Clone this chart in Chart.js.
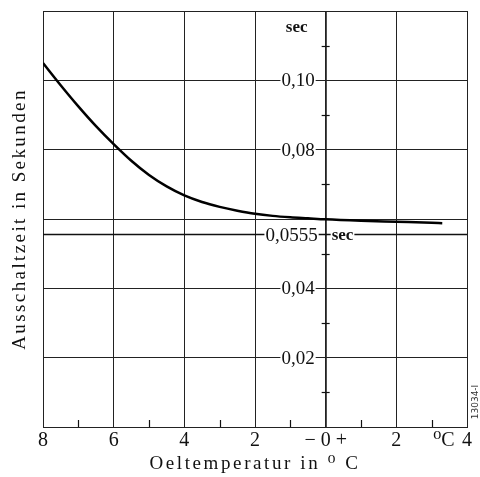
<!DOCTYPE html>
<html lang="de">
<head>
    <meta charset="UTF-8">
    <title>Ausschaltzeit in Sekunden</title>
    <script src="https://cdn.jsdelivr.net/npm/chart.js"></script>
    <style>
        body {
            margin: 0;
            padding: 0;
            background-color: #fff;
        }
        .chart-container {
            width: 480px;
            height: 477px;
        }
    </style>
</head>
<body>
    <div class="chart-container">
        <canvas id="myChart"></canvas>
    </div>

    <script>
        // Oeltemperatur (°C) und Ausschaltzeit (sec)
        const temps = [-8, -7.5, -7, -6.5, -6, -5.5, -5, -4.5, -4, -3.5, -3, -2.5, -2, -1.5, -1, -0.5, 0, 1, 2, 3, 3.3];
        const times = [0.105, 0.0986, 0.0925, 0.0868, 0.0816, 0.0768, 0.0727, 0.0694, 0.0668, 0.0649, 0.0635, 0.0624, 0.0615, 0.0609, 0.0605, 0.0602, 0.0599, 0.0595, 0.0592, 0.0589, 0.0588];

        // Bezugslinie
        const refTime = 0.0555;
        const refLabel = '0,0555';
        const unitLabel = 'sec';

        // Achsen
        const xTicks = [-8, -6, -4, -2, 0, 2, 4];
        const xTickLabels = ['8', '6', '4', '2', '\u2212 0 +', '2', '4'];
        const xMinor = [-7, -5, -3, -1, 1, 3];
        const yTicks = [0, 0.02, 0.04, 0.06, 0.08, 0.10, 0.12];
        const yLabelValues = [0.02, 0.04, 0.08, 0.10];
        const yLabels = ['0,02', '0,04', '0,08', '0,10'];
        const yMinor = [0.01, 0.03, 0.05, 0.07, 0.09, 0.11];

        const xTitle = 'Oeltemperatur in \u2070 C';
        const yTitle = 'Ausschaltzeit in Sekunden';
        const unitC = '\u2070C';
        const figNo = '13034-I';

        const serif = '"Liberation Serif", "DejaVu Serif", serif';

        const overlay = {
            id: 'overlay',
            afterDraw(chart) {
                const { ctx, chartArea: a, scales: { x, y } } = chart;
                const x0 = x.getPixelForValue(0);
                ctx.save();

                // kleine Teilstriche
                ctx.strokeStyle = '#111';
                ctx.lineWidth = 1.2;
                xMinor.forEach(v => {
                    const px = Math.round(x.getPixelForValue(v)) + 0.5;
                    ctx.beginPath();
                    ctx.moveTo(px, a.bottom);
                    ctx.lineTo(px, a.bottom - 7);
                    ctx.stroke();
                });
                yMinor.forEach(v => {
                    const py = Math.round(y.getPixelForValue(v)) + 0.5;
                    ctx.beginPath();
                    ctx.moveTo(x0 - 4, py);
                    ctx.lineTo(x0 + 4, py);
                    ctx.stroke();
                });

                function boxed(text, px, py, align) {
                    ctx.textAlign = align;
                    const w = ctx.measureText(text).width;
                    const left = align === 'right' ? px - w : (align === 'center' ? px - w / 2 : px);
                    ctx.fillStyle = '#fff';
                    ctx.fillRect(left - 1, py - 7, w + 2, 14);
                    ctx.fillStyle = '#111';
                    ctx.fillText(text, px, py + 1);
                }

                ctx.textBaseline = 'middle';
                ctx.font = '19px ' + serif;
                yLabelValues.forEach((v, i) => boxed(yLabels[i], x0 - 11, y.getPixelForValue(v), 'right'));
                boxed(refLabel, x0 - 8, y.getPixelForValue(refTime), 'right');

                ctx.font = 'bold 17px ' + serif;
                boxed(unitLabel, x0 + 6, y.getPixelForValue(refTime), 'left');
                ctx.textAlign = 'center';
                ctx.fillText(unitLabel, x0 - 29, a.top + 17);

                // °C neben der 4
                ctx.font = '20px ' + serif;
                ctx.fillText(unitC, x.getPixelForValue(3.35), a.bottom + 14);

                // Achsentitel
                ctx.font = '19px ' + serif;
                ctx.letterSpacing = '2.6px';
                ctx.fillText(xTitle, (a.left + a.right) / 2, a.bottom + 37);

                ctx.save();
                ctx.translate(20, (a.top + a.bottom) / 2);
                ctx.rotate(-Math.PI / 2);
                ctx.letterSpacing = '2.4px';
                ctx.fillText(yTitle, 0, 0);
                ctx.restore();

                // Bildnummer
                ctx.letterSpacing = '0px';
                ctx.translate(476, 402);
                ctx.rotate(-Math.PI / 2);
                ctx.font = '9px "DejaVu Sans", sans-serif';
                ctx.fillStyle = '#333';
                ctx.fillText(figNo, 0, 0);

                ctx.restore();
            }
        };

        const ctx = document.getElementById('myChart').getContext('2d');
        const myChart = new Chart(ctx, {
            type: 'line',
            data: {
                datasets: [{
                    data: [{ x: -8, y: refTime }, { x: 4, y: refTime }],
                    borderColor: '#111',
                    borderWidth: 1.5,
                    pointRadius: 0
                }, {
                    data: temps.map((t, i) => ({ x: t, y: times[i] })),
                    borderColor: '#000',
                    borderWidth: 2.5,
                    pointRadius: 0,
                    tension: 0.4,
                    cubicInterpolationMode: 'monotone'
                }]
            },
            options: {
                responsive: true,
                maintainAspectRatio: false,
                animation: false,
                layout: {
                    padding: { left: 43, top: 11, right: 13, bottom: 22 }
                },
                plugins: {
                    legend: { display: false },
                    tooltip: { enabled: false }
                },
                scales: {
                    x: {
                        type: 'linear',
                        min: -8,
                        max: 4,
                        afterBuildTicks: s => { s.ticks = xTicks.map(v => ({ value: v })); },
                        ticks: {
                            autoSkip: false,
                            maxRotation: 0,
                            padding: 2,
                            color: '#111',
                            font: { family: serif, size: 20 },
                            callback: v => xTickLabels[xTicks.indexOf(v)]
                        },
                        grid: {
                            color: '#222',
                            drawTicks: false,
                            lineWidth: c => (c.tick && c.tick.value === 0 ? 1.8 : 1)
                        },
                        border: { color: '#222', width: 1 }
                    },
                    y: {
                        min: 0,
                        max: 0.12,
                        afterBuildTicks: s => { s.ticks = yTicks.map(v => ({ value: v })); },
                        ticks: { display: false },
                        grid: { color: '#222', drawTicks: false, lineWidth: 1 },
                        border: { color: '#222', width: 1 }
                    }
                }
            },
            plugins: [overlay]
        });
    </script>
</body>
</html>
